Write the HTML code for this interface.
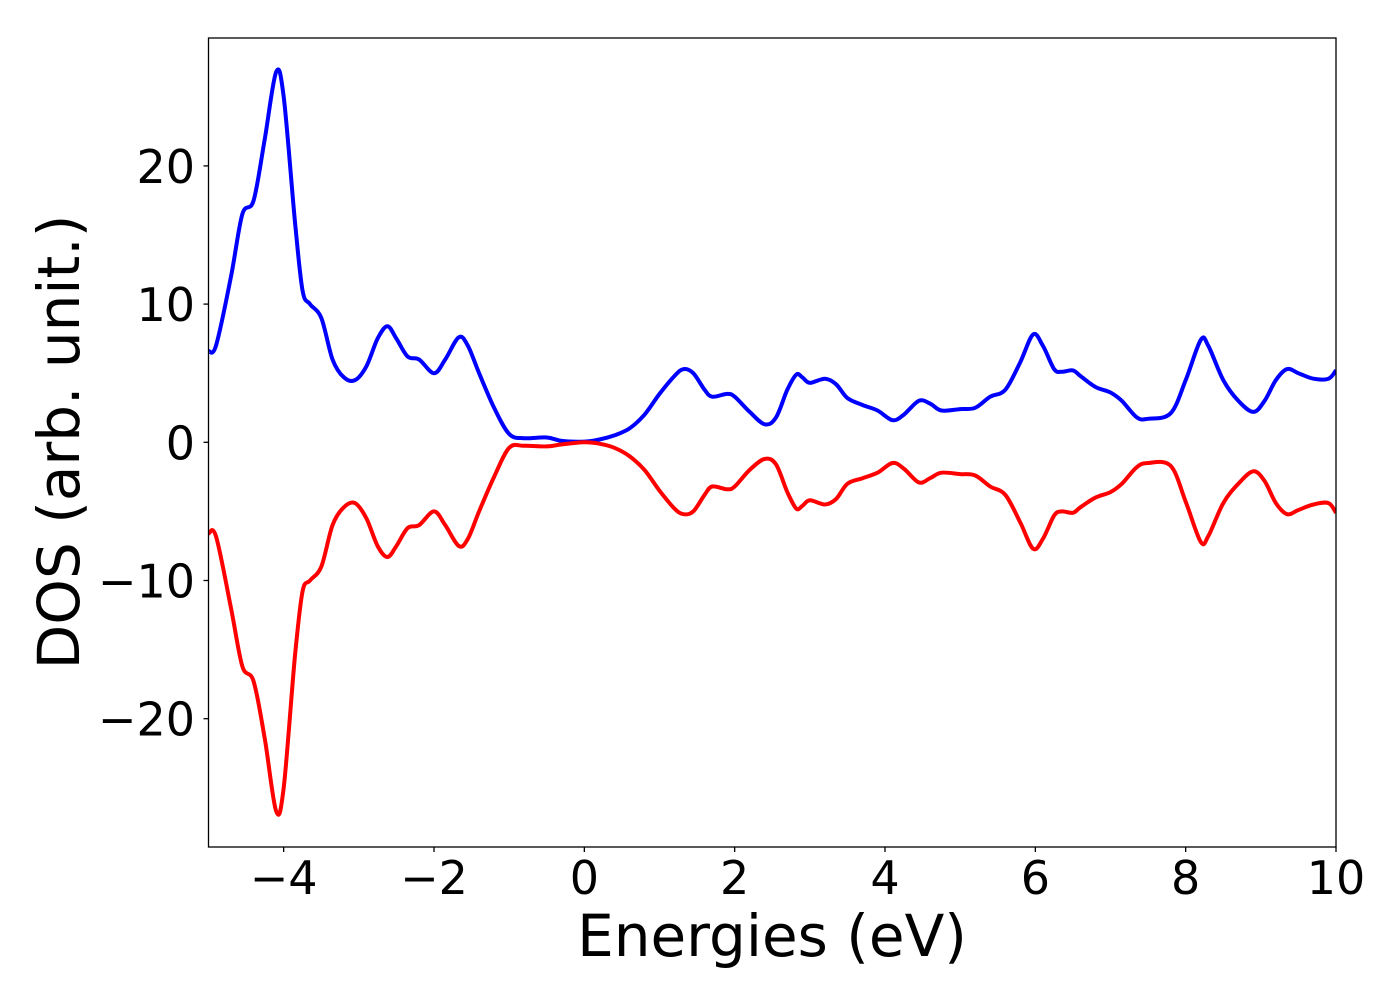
<!DOCTYPE html>
<html><head><meta charset="utf-8"><style>
html,body{margin:0;padding:0;background:#fff;}
svg text{font-family:"DejaVu Sans","Liberation Sans",sans-serif;fill:#000;}
</style></head><body>
<svg id="chart" width="1400" height="1000" viewBox="0 0 1400 1000" xmlns="http://www.w3.org/2000/svg">
<rect width="1400" height="1000" fill="#fff"/>
<g id="curves"></g>
<rect x="208.5" y="38" width="1127.5" height="809" fill="none" stroke="#000" stroke-width="1.3"/>
<g id="axes"></g>
<text x="772" y="956" font-size="58" text-anchor="middle">Energies (eV)</text>
<text transform="translate(79,442) rotate(-90)" font-size="58" text-anchor="middle">DOS (arb. unit.)</text>
</svg>
<script>
const energies = [-5,-4.9,-4.7,-4.55,-4.4,-4.25,-4.1,-4.0,-3.85,-3.75,-3.65,-3.5,-3.35,-3.2,-3.05,-2.9,-2.75,-2.62,-2.5,-2.35,-2.2,-2.0,-1.85,-1.67,-1.55,-1.4,-1.2,-1.0,-0.8,-0.5,-0.3,0,0.2,0.4,0.6,0.8,1.0,1.2,1.32,1.45,1.6,1.7,1.9,2.0,2.2,2.4,2.55,2.7,2.82,2.9,3.0,3.2,3.35,3.5,3.7,3.9,4.1,4.25,4.45,4.6,4.75,5.0,5.2,5.4,5.6,5.8,5.97,6.1,6.25,6.35,6.5,6.6,6.8,7.0,7.15,7.35,7.5,7.8,8.0,8.2,8.3,8.5,8.7,8.9,9.05,9.2,9.35,9.5,9.7,9.9,10];
const spinUp = [6.6,7,12,16.5,17.5,22,26.8,25,16,11,10,9,6,4.7,4.5,5.5,7.5,8.4,7.5,6.2,6,5,6,7.6,7,5,2.5,0.6,0.3,0.35,0.1,0.05,0.2,0.5,1,2,3.5,4.8,5.3,5,3.8,3.3,3.5,3.3,2.2,1.3,1.8,3.8,4.9,4.7,4.3,4.6,4.2,3.2,2.7,2.3,1.6,2,3,2.8,2.3,2.4,2.5,3.3,3.8,5.8,7.8,7,5.3,5.1,5.2,4.8,4,3.6,3,1.8,1.7,2.1,4.5,7.4,7,4.5,3,2.2,3,4.5,5.3,5,4.6,4.6,5.2];
const spinDown = [-6.6,-6.8,-12,-16.2,-17.3,-21.5,-26.7,-25,-15.5,-10.8,-10,-9,-6,-4.7,-4.4,-5.5,-7.5,-8.3,-7.5,-6.2,-6,-5,-6,-7.5,-7,-5,-2.5,-0.4,-0.25,-0.3,-0.15,0,-0.1,-0.4,-1,-2,-3.5,-4.8,-5.2,-5,-3.8,-3.2,-3.4,-3.2,-2,-1.2,-1.6,-3.6,-4.8,-4.6,-4.2,-4.5,-4.1,-3,-2.6,-2.2,-1.5,-1.9,-2.9,-2.6,-2.2,-2.3,-2.4,-3.2,-3.8,-5.8,-7.7,-7,-5.3,-5,-5.1,-4.7,-4,-3.6,-3,-1.8,-1.5,-1.7,-4.3,-7.2,-6.8,-4.4,-3,-2.1,-2.8,-4.4,-5.2,-4.9,-4.5,-4.4,-5.1];
const xTicks = [-4,-2,0,2,4,6,8,10];
const yTicks = [-20,-10,0,10,20];

const X0=208.5, X1=1336, Y0=442.3, YS=13.82;
const xScale = v => X0 + (v - (-5)) * (X1 - X0) / 15;
const yScale = v => Y0 - v * YS;
const NS="http://www.w3.org/2000/svg";
function smoothPath(xs, ys){
  const p = xs.map((x,i)=>[xScale(x), yScale(ys[i])]);
  let d = "M"+p[0][0].toFixed(1)+","+p[0][1].toFixed(1);
  for(let i=0;i<p.length-1;i++){
    const a=p[Math.max(0,i-1)], b=p[i], c=p[i+1], e=p[Math.min(p.length-1,i+2)];
    const c1=[b[0]+(c[0]-a[0])/6, b[1]+(c[1]-a[1])/6];
    const c2=[c[0]-(e[0]-b[0])/6, c[1]-(e[1]-b[1])/6];
    d+=" C"+c1[0].toFixed(1)+","+c1[1].toFixed(1)+" "+c2[0].toFixed(1)+","+c2[1].toFixed(1)+" "+c[0].toFixed(1)+","+c[1].toFixed(1);
  }
  return d;
}
const curves=document.getElementById('curves');
const clip=document.createElementNS(NS,'clipPath'); clip.setAttribute('id','pc');
const cr=document.createElementNS(NS,'rect'); cr.setAttribute('x',X0); cr.setAttribute('y',38); cr.setAttribute('width',X1-X0); cr.setAttribute('height',809);
clip.appendChild(cr); document.getElementById('chart').appendChild(clip);
curves.setAttribute('clip-path','url(#pc)');
[[spinUp,'#0000ff','spin-up-line'],[spinDown,'#ff0000','spin-down-line']].forEach(([s,c,n])=>{
  const path=document.createElementNS(NS,'path');
  path.setAttribute('d',smoothPath(energies,s));
  path.setAttribute('fill','none'); path.setAttribute('stroke',c); path.setAttribute('stroke-width','4');
  path.setAttribute('stroke-linejoin','round');
  
  
  curves.appendChild(path);
});
const axes=document.getElementById('axes');
xTicks.forEach(t=>{
  const x=xScale(t);
  const l=document.createElementNS(NS,'line');
  l.setAttribute('x1',x);l.setAttribute('x2',x);l.setAttribute('y1',847);l.setAttribute('y2',852);l.setAttribute('stroke','#000');l.setAttribute('stroke-width','1.3');
  
  
  axes.appendChild(l);
  const tx=document.createElementNS(NS,'text');
  tx.setAttribute('x',x);tx.setAttribute('y',894);tx.setAttribute('font-size','46');tx.setAttribute('text-anchor','middle');
  tx.textContent=(t<0?'\u2212':'')+Math.abs(t);
  
  
  axes.appendChild(tx);
});
yTicks.forEach(t=>{
  const y=yScale(t);
  const l=document.createElementNS(NS,'line');
  l.setAttribute('x1',203.5);l.setAttribute('x2',208.5);l.setAttribute('y1',y);l.setAttribute('y2',y);l.setAttribute('stroke','#000');l.setAttribute('stroke-width','1.3');
  
  
  axes.appendChild(l);
  const tx=document.createElementNS(NS,'text');
  tx.setAttribute('x',195);tx.setAttribute('y',y+17);tx.setAttribute('font-size','46');tx.setAttribute('text-anchor','end');
  tx.textContent=(t<0?'\u2212':'')+Math.abs(t);
  
  
  axes.appendChild(tx);
});
</script>
</body></html>
